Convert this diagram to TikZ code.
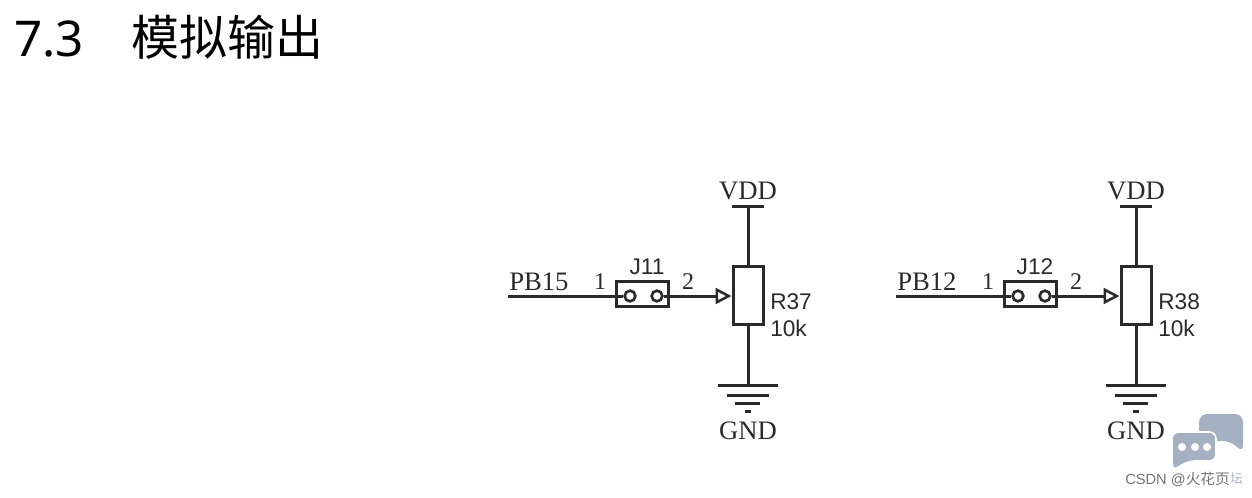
\documentclass[tikz,border=0pt]{standalone}
\usepackage{fontspec}
\setmainfont{Liberation Serif}
\setsansfont{Liberation Sans}
\newfontfamily\titlefont{Noto Sans}
\newfontfamily\cjkfont{Noto Sans CJK SC}
\usetikzlibrary{arrows.meta, positioning}
\definecolor{inkline}{HTML}{2A2A2A}
\definecolor{bubblegray}{HTML}{A5B1C2}
\begin{document}
\begin{tikzpicture}[x=0.75pt, y=-0.75pt,
            wire/.style={draw=inkline, line width=2.25pt},
            netlabel/.style={font=\rmfamily\fontsize{20}{20}\selectfont, text=inkline, inner sep=0pt},
            pinlabel/.style={font=\rmfamily\fontsize{18}{18}\selectfont, text=inkline, inner sep=0pt},
            partlabel/.style={font=\sffamily\fontsize{17}{18}\selectfont, text=inkline, inner sep=0pt},
            jumperbox/.style={draw=inkline, line width=2.25pt, minimum width=39.5pt, minimum height=19pt, inner sep=0pt},
            jumperpin/.style={draw=inkline, line width=2pt, circle, minimum size=8pt, inner sep=0pt},
            potbox/.style={draw=inkline, line width=2.25pt, minimum width=22.5pt, minimum height=44pt, inner sep=0pt}]

    % page size
    \path[use as bounding box] (0,0) rectangle (1252,497);

    % Section title
    \node[anchor=base west, inner sep=0pt, font=\titlefont\fontsize{37}{37}\selectfont] (title) at (14,56) {7.3};
    \node[anchor=base west, inner sep=0pt, font=\cjkfont\fontsize{36}{36}\selectfont] (titlecn) at (131,55) {模拟输出};

    % The two output circuits
    \foreach \offs/\netname/\jname/\rname in {0/PB15/J11/R37, 388/PB12/J12/R38} {
        \begin{scope}[xshift=\offs*0.75pt]
            \coordinate (in\jname) at (508,296);
            \node[jumperbox] (\jname) at (642.5,294) {};
            \node[jumperpin] (\jname-a) at (630,296) {};
            \node[jumperpin] (\jname-b) at (657,296) {};
            \node[potbox] (\rname) at (748,295.5) {};
            \node[partlabel] (\jname-name) at (647,267) {\jname};
            \node[netlabel, anchor=base west] (\jname-net) at (509,290) {\netname};
            \node[pinlabel] (\jname-one) at (600,282) {1};
            \node[pinlabel] (\jname-two) at (688,282) {2};
            \node[partlabel, anchor=base west] (\rname-name) at (770,309) {\rname};
            \node[partlabel, anchor=base west] (\rname-val) at (770,336) {10k};

            % supply
            \coordinate (vdd\rname) at (748,206);
            \draw[wire] (732,206) -- (764,206);
            \draw[wire] (vdd\rname) -- (\rname.north);
            \node[netlabel] (vddtxt\rname) at (748,191) {VDD};

            % ground
            \coordinate (gnd\rname) at (748,385);
            \draw[wire] (\rname.south) -- (gnd\rname);
            \draw[wire] (718,385) -- (778,385);
            \draw[wire] (727,395) -- (769,395);
            \draw[wire] (735,403) -- (760,403);
            \draw[wire] (745,411) -- (751,411);
            \node[netlabel] (gndtxt\rname) at (748,431) {GND};

            % signal path
            \draw[wire] (in\jname) -- (\jname-a);
            \draw[wire, -{Triangle[open, length=12pt, width=12pt, line width=1.9pt]}] (\jname-b) -- (\jname-b -| \rname.west);
        \end{scope}
    }

    % Watermark
    \fill[bubblegray, rounded corners=6pt] (1199,414) -- (1243,414) -- (1243,453) -- (1231,441) -- (1199,441) -- cycle;
    \fill[bubblegray, draw=white, line width=1.2pt, rounded corners=5pt] (1172,432) -- (1216,432) -- (1216,461) -- (1188,461) -- (1174,470) -- (1172,470) -- cycle;
    \foreach \dotx in {1182,1195,1207}
        \fill[white] (\dotx,447) circle (3pt);
    \node[anchor=base west, inner sep=0pt, text=black!55, font=\sffamily\fontsize{11}{12}\selectfont] (mark) at (1125,484) {CSDN @{\cjkfont 火花页}};
    \node[anchor=base west, inner sep=0pt, text=bubblegray, font=\cjkfont\fontsize{9.5}{10}\selectfont, right=0pt of mark] (markend) {坛};
\end{tikzpicture}
\end{document}
